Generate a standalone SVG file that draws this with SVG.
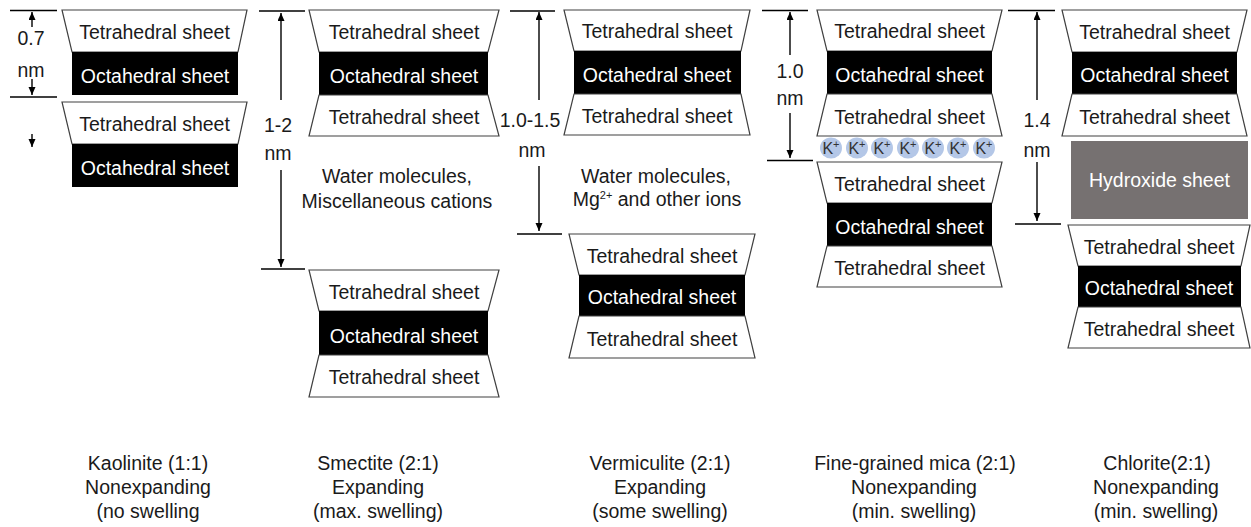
<svg xmlns="http://www.w3.org/2000/svg" width="1251" height="527" viewBox="0 0 1251 527">
<style>
text{font-family:"Liberation Sans",Arial,sans-serif;font-size:19.5px;text-anchor:middle;fill:#1a1a1a}
.tet{fill:#ffffff;stroke:#404040;stroke-width:1.2}
.oct{fill:#000000}
.wt{fill:#ffffff}
.hyd{fill:#767171}
.dim{stroke:#000;stroke-width:1.6;fill:none}
.arr{stroke:#000;stroke-width:1.4;fill:none;marker-end:url(#ah)}
.kc{fill:#b4c7e7}
.kt{font-size:16px;fill:#333}
.sup{font-size:11px}
</style>
<defs>
<marker id="ah" markerUnits="userSpaceOnUse" markerWidth="9" markerHeight="8" refX="8" refY="3.5" orient="auto">
<path d="M0,0 L8,3.5 L0,7 z" fill="#000"/>
</marker>
</defs>
<rect width="1251" height="527" fill="#ffffff"/>

<!-- Kaolinite -->
<g id="kao-t1"><polygon class="tet" points="62,10 247,10 238,52 72,52"/><text x="154.5" y="39">Tetrahedral sheet</text></g>
<g id="kao-o1"><rect class="oct" x="72" y="52" width="166" height="43"/><text class="wt" x="155" y="83">Octahedral sheet</text></g>
<g id="kao-t2"><polygon class="tet" points="62,102 247,102 238,144 72,144"/><text x="154.5" y="131">Tetrahedral sheet</text></g>
<g id="kao-o2"><rect class="oct" x="72" y="144" width="166" height="43"/><text class="wt" x="155" y="175">Octahedral sheet</text></g>
<g id="kao-dim"><text x="31" y="45">0.7</text><text x="31" y="77">nm</text></g>

<!-- Smectite -->
<g id="sme-t1"><polygon class="tet" points="309,10 499,10 488,52 319,52"/><text x="404" y="39">Tetrahedral sheet</text></g>
<g id="sme-o1"><rect class="oct" x="319" y="52" width="169" height="43"/><text class="wt" x="404" y="83">Octahedral sheet</text></g>
<g id="sme-t2"><polygon class="tet" points="319,95 488,95 499,136 309,136"/><text x="404" y="124">Tetrahedral sheet</text></g>
<g id="sme-mid"><text x="397" y="183">Water molecules,</text><text x="397" y="208">Miscellaneous cations</text></g>
<g id="sme-t3"><polygon class="tet" points="309,270 499,270 488,311 319,311"/><text x="404" y="299">Tetrahedral sheet</text></g>
<g id="sme-o2"><rect class="oct" x="319" y="311" width="169" height="44"/><text class="wt" x="404" y="343">Octahedral sheet</text></g>
<g id="sme-t4"><polygon class="tet" points="319,355 488,355 499,397 309,397"/><text x="404" y="384">Tetrahedral sheet</text></g>
<g id="sme-dim"><text x="278" y="132">1-2</text><text x="278" y="160">nm</text></g>

<!-- Vermiculite -->
<g id="ver-t1"><polygon class="tet" points="564,10 750,10 741,51 574,51"/><text x="657" y="38">Tetrahedral sheet</text></g>
<g id="ver-o1"><rect class="oct" x="574" y="51" width="167" height="43"/><text class="wt" x="657" y="82">Octahedral sheet</text></g>
<g id="ver-t2"><polygon class="tet" points="574,94 741,94 750,135 564,135"/><text x="657" y="123">Tetrahedral sheet</text></g>
<g id="ver-mid"><text x="656" y="183">Water molecules,</text><text x="657" y="206">Mg<tspan class="sup" dy="-7">2+</tspan><tspan dy="7"> and other ions</tspan></text></g>
<g id="ver-t3"><polygon class="tet" points="569,234 755,234 745,275 579,275"/><text x="662" y="263">Tetrahedral sheet</text></g>
<g id="ver-o2"><rect class="oct" x="579" y="275" width="166" height="41"/><text class="wt" x="662" y="304">Octahedral sheet</text></g>
<g id="ver-t4"><polygon class="tet" points="579,316 745,316 755,358 569,358"/><text x="662" y="346">Tetrahedral sheet</text></g>
<g id="ver-dim"><text x="530" y="127">1.0-1.5</text><text x="532" y="157">nm</text></g>

<!-- Fine-grained mica -->
<g id="mic-t1"><polygon class="tet" points="817,10 1002,10 992,51 827,51"/><text x="909.5" y="38">Tetrahedral sheet</text></g>
<g id="mic-o1"><rect class="oct" x="827" y="51" width="165" height="43"/><text class="wt" x="909.5" y="82">Octahedral sheet</text></g>
<g id="mic-t2"><polygon class="tet" points="827,94 992,94 1002,136 817,136"/><text x="909.5" y="124">Tetrahedral sheet</text></g>
<g id="mic-k">
<ellipse class="kc" cx="831" cy="148" rx="11" ry="10.5"/><ellipse class="kc" cx="857" cy="148" rx="11" ry="10.5"/><ellipse class="kc" cx="882" cy="148" rx="11" ry="10.5"/><ellipse class="kc" cx="908" cy="148" rx="11" ry="10.5"/><ellipse class="kc" cx="933" cy="148" rx="11" ry="10.5"/><ellipse class="kc" cx="958" cy="148" rx="11" ry="10.5"/><ellipse class="kc" cx="984" cy="148" rx="11" ry="10.5"/>
<text class="kt" x="831" y="154">K<tspan class="sup" dy="-6">+</tspan></text>
<text class="kt" x="857" y="154">K<tspan class="sup" dy="-6">+</tspan></text>
<text class="kt" x="882" y="154">K<tspan class="sup" dy="-6">+</tspan></text>
<text class="kt" x="908" y="154">K<tspan class="sup" dy="-6">+</tspan></text>
<text class="kt" x="933" y="154">K<tspan class="sup" dy="-6">+</tspan></text>
<text class="kt" x="958" y="154">K<tspan class="sup" dy="-6">+</tspan></text>
<text class="kt" x="984" y="154">K<tspan class="sup" dy="-6">+</tspan></text>
</g>
<g id="mic-t3"><polygon class="tet" points="817,162 1002,162 992,203 827,203"/><text x="909.5" y="191">Tetrahedral sheet</text></g>
<g id="mic-o2"><rect class="oct" x="827" y="203" width="165" height="43"/><text class="wt" x="909.5" y="234">Octahedral sheet</text></g>
<g id="mic-t4"><polygon class="tet" points="827,246 992,246 1002,287 817,287"/><text x="909.5" y="275">Tetrahedral sheet</text></g>
<g id="mic-dim"><text x="790" y="78">1.0</text><text x="790" y="105">nm</text></g>

<!-- Chlorite -->
<g id="chl-t1"><polygon class="tet" points="1062,10 1247,10 1237,52 1072,52"/><text x="1154.5" y="39">Tetrahedral sheet</text></g>
<g id="chl-o1"><rect class="oct" x="1072" y="52" width="165" height="42"/><text class="wt" x="1154.5" y="82">Octahedral sheet</text></g>
<g id="chl-t2"><polygon class="tet" points="1072,94 1237,94 1247,136 1062,136"/><text x="1154.5" y="124">Tetrahedral sheet</text></g>
<g id="chl-h"><rect class="hyd" x="1071" y="141" width="177" height="78"/><text class="wt" x="1159.5" y="187">Hydroxide sheet</text></g>
<g id="chl-t3"><polygon class="tet" points="1068,225 1250,225 1241,266 1078,266"/><text x="1159" y="254">Tetrahedral sheet</text></g>
<g id="chl-o2"><rect class="oct" x="1078" y="266" width="163" height="41"/><text class="wt" x="1159" y="295">Octahedral sheet</text></g>
<g id="chl-t4"><polygon class="tet" points="1078,307 1241,307 1250,348 1068,348"/><text x="1159" y="336">Tetrahedral sheet</text></g>
<g id="chl-dim"><text x="1037" y="127">1.4</text><text x="1037" y="157">nm</text></g>

<!-- Labels -->
<g id="lab-kao"><text x="148" y="470">Kaolinite (1:1)</text><text x="148" y="494">Nonexpanding</text><text x="148" y="518">(no swelling</text></g>
<g id="lab-sme"><text x="378" y="470">Smectite (2:1)</text><text x="378" y="494">Expanding</text><text x="378" y="518">(max. swelling)</text></g>
<g id="lab-ver"><text x="660" y="470">Vermiculite (2:1)</text><text x="660" y="494">Expanding</text><text x="660" y="518">(some swelling)</text></g>
<g id="lab-mic"><text x="915" y="470">Fine-grained mica (2:1)</text><text x="914" y="494">Nonexpanding</text><text x="914" y="518">(min. swelling)</text></g>
<g id="lab-chl"><text x="1157" y="470">Chlorite(2:1)</text><text x="1156" y="494">Nonexpanding</text><text x="1156" y="518">(min. swelling)</text></g>

<!-- Connectors / dimension lines -->
<g id="connectors">
<line class="dim" x1="10" y1="10.5" x2="57" y2="10.5"/>
<line class="dim" x1="10" y1="97" x2="57" y2="97"/>
<line class="arr" x1="32" y1="27" x2="32" y2="12"/>
<line class="arr" x1="32" y1="79" x2="32" y2="95"/>
<line class="arr" x1="32" y1="134" x2="32" y2="147"/>

<line class="dim" x1="259" y1="11" x2="305" y2="11"/>
<line class="dim" x1="261" y1="269" x2="305" y2="269"/>
<line class="arr" x1="281" y1="100" x2="281" y2="13"/>
<line class="arr" x1="281" y1="170" x2="281" y2="267"/>

<line class="dim" x1="510" y1="11" x2="555" y2="11"/>
<line class="dim" x1="517" y1="234" x2="562" y2="234"/>
<line class="arr" x1="539" y1="100" x2="539" y2="12"/>
<line class="arr" x1="539" y1="166" x2="539" y2="231"/>

<line class="dim" x1="762" y1="10.5" x2="808" y2="10.5"/>
<line class="dim" x1="767" y1="160.5" x2="813" y2="160.5"/>
<line class="arr" x1="790" y1="55" x2="790" y2="12"/>
<line class="arr" x1="790" y1="113" x2="790" y2="158"/>

<line class="dim" x1="1008" y1="10.5" x2="1055" y2="10.5"/>
<line class="dim" x1="1015" y1="224" x2="1061" y2="224"/>
<line class="arr" x1="1037" y1="100" x2="1037" y2="12"/>
<line class="arr" x1="1037" y1="162" x2="1037" y2="221"/>
</g>
</svg>
